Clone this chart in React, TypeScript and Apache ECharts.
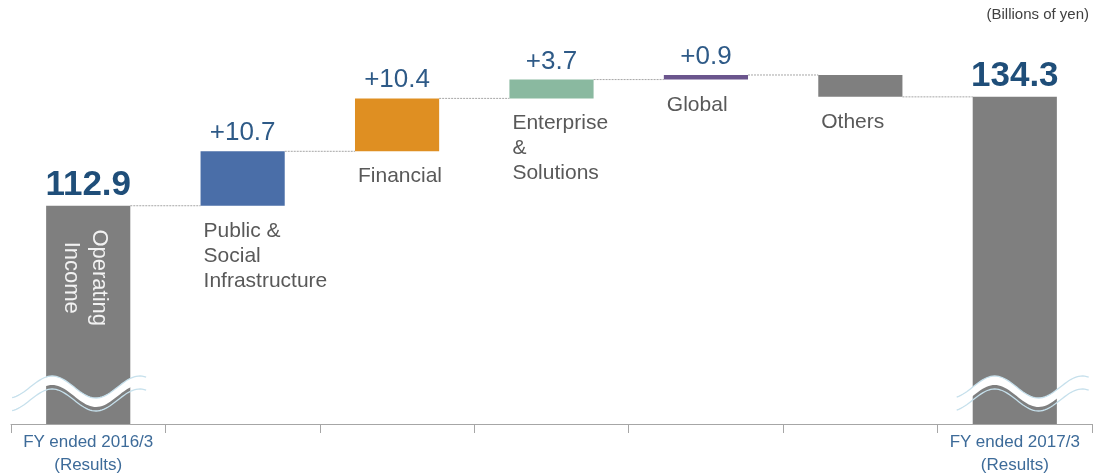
import React, { useEffect, useRef } from "react";
import * as echarts from "echarts";

const categories = [
  "FY ended 2016/3\n(Results)",
  "Public &\nSocial\nInfrastructure",
  "Financial",
  "Enterprise\n&\nSolutions",
  "Global",
  "Others",
  "FY ended 2017/3\n(Results)",
];
const startTotal = 112.9;
const endTotal = 134.3;
const deltas = [10.7, 10.4, 3.7, 0.9, -4.3];
const deltaLabels = ["+10.7", "+10.4", "+3.7", "+0.9", ""];
const barColors = ["#7f7f7f", "#4a6ea8", "#df8f22", "#8ab9a0", "#6b558d", "#7f7f7f", "#7f7f7f"];
const unitLabel = "(Billions of yen)";
const totalBarLabel = "Operating\nIncome";

const FONT = "'Liberation Sans', Arial, sans-serif";

function buildData() {
  const rows: number[][] = [];
  rows.push([0, 0, startTotal, startTotal]);
  let run = startTotal;
  deltas.forEach((d, i) => {
    const next = run + d;
    rows.push([i + 1, Math.min(run, next), Math.max(run, next), next]);
    run = next;
  });
  rows.push([categories.length - 1, 0, endTotal, endTotal]);
  return rows;
}

export default function App() {
  const ref = useRef<HTMLDivElement>(null);
  useEffect(() => {
    if (!ref.current) return;
    const chart = echarts.init(ref.current, null, { renderer: "svg" });
    const last = categories.length - 1;
    const data = buildData();

    const renderItem = (params: any, api: any) => {
      const idx = api.value(0);
      const low = api.value(1);
      const high = api.value(2);
      const end = api.value(3);
      const cs = params.coordSys;
      const top = api.coord([idx, high]);
      const bot = api.coord([idx, low]);
      const catW = api.size([1, 0])[0];
      const bw = catW * 0.545;
      const cx = top[0];
      const x0 = cx - bw / 2;
      const yTop = Math.max(top[1], cs.y);
      const yBot = Math.min(bot[1], cs.y + cs.height);
      const children: any[] = [];
      children.push({
        type: "rect",
        shape: { x: x0, y: yTop, width: bw, height: Math.max(yBot - yTop, 1) },
        style: { fill: barColors[idx] },
      });
      if (idx < last) {
        const e = api.coord([idx, end]);
        children.push({
          type: "line",
          shape: { x1: x0 + bw, y1: e[1], x2: cx + catW - bw / 2, y2: e[1] },
          style: { stroke: "#a6a6a6", lineWidth: 1, lineDash: [2, 1] },
        });
      }
      const isTotal = idx === 0 || idx === last;
      if (isTotal) {
        children.push({
          type: "text",
          x: cx,
          y: yTop - 6,
          style: {
            text: end.toFixed(1),
            fill: "#1f4e79",
            fontSize: 35,
            fontWeight: "bold",
            fontFamily: FONT,
            align: "center",
            verticalAlign: "bottom",
          },
        });
        if (idx === 0) {
          children.push({
            type: "text",
            x: cx - 2,
            y: yTop + 72,
            rotation: -Math.PI / 2,
            style: {
              text: totalBarLabel,
              fill: "#f2f2f2",
              fontSize: 22,
              lineHeight: 28,
              fontFamily: FONT,
              align: "center",
              verticalAlign: "middle",
            },
          });
        }
        // axis-break wave
        const baseY = yBot - 37;
        const phase = idx === 0 ? 6 : 22;
        const period = bw * 1.04;
        const xs = idx === 0 ? [-34, 101] : [-16, 116];
        const upper: number[][] = [];
        const lower: number[][] = [];
        const band: number[][] = [];
        for (let x = x0 + xs[0]; x <= x0 + xs[1]; x += 2) {
          const y = baseY - 11 * Math.cos((2 * Math.PI * (x - (x0 + phase))) / period);
          upper.push([x, y]);
          lower.push([x, y + 13]);
        }
        upper.forEach((p) => band.push([p[0], p[1]]));
        for (let i = upper.length - 1; i >= 0; i--) band.push([upper[i][0], upper[i][1] + 9]);
        children.push({
          type: "polygon",
          shape: { points: band },
          style: { fill: "#ffffff" },
        });
        children.push({
          type: "polyline",
          shape: { points: upper },
          style: { stroke: "#c6e0ec", lineWidth: 1.3, fill: null },
        });
        children.push({
          type: "polyline",
          shape: { points: lower },
          style: { stroke: "#c6e0ec", lineWidth: 1.3, fill: null },
        });
      } else {
        const lbl = deltaLabels[idx - 1];
        if (lbl) {
          children.push({
            type: "text",
            x: cx,
            y: yTop - 7,
            style: {
              text: lbl,
              fill: "#2e5a87",
              fontSize: 26,
              fontFamily: FONT,
              align: "center",
              verticalAlign: "bottom",
            },
          });
        }
        children.push({
          type: "text",
          x: x0 + 3,
          y: yBot + 11,
          style: {
            text: categories[idx],
            fill: "#595959",
            fontSize: 21,
            lineHeight: 25,
            fontFamily: FONT,
            align: "left",
            verticalAlign: "top",
          },
        });
      }
      return { type: "group", children };
    };

    chart.setOption({
      animation: false,
      grid: { left: 11, right: 6, top: 17, bottom: 51 },
      xAxis: {
        type: "category",
        data: categories,
        boundaryGap: true,
        axisLine: { lineStyle: { color: "#a6a6a6", width: 1 } },
        axisTick: { show: true, length: 9, interval: 0, lineStyle: { color: "#a6a6a6" } },
        axisLabel: {
          interval: 0,
          margin: 6,
          color: "#3d6b99",
          fontSize: 17,
          lineHeight: 23,
          fontFamily: FONT,
          formatter: (v: string, i: number) => (i === 0 || i === last ? v : ""),
        },
      },
      yAxis: { type: "value", min: 70, max: 150, show: false, splitLine: { show: false } },
      graphic: [
        {
          type: "text",
          right: 9,
          top: 6,
          style: { text: unitLabel, fontSize: 15, fill: "#404040", fontFamily: FONT },
        },
      ],
      series: [
        {
          type: "custom",
          renderItem,
          encode: { x: 0, y: [1, 2] },
          data,
        },
      ],
    });
    return () => chart.dispose();
  }, []);
  return (
    <div
      ref={ref}
      style={{ position: "fixed", left: 0, top: 0, width: 1098, height: 476 }}
    />
  );
}
